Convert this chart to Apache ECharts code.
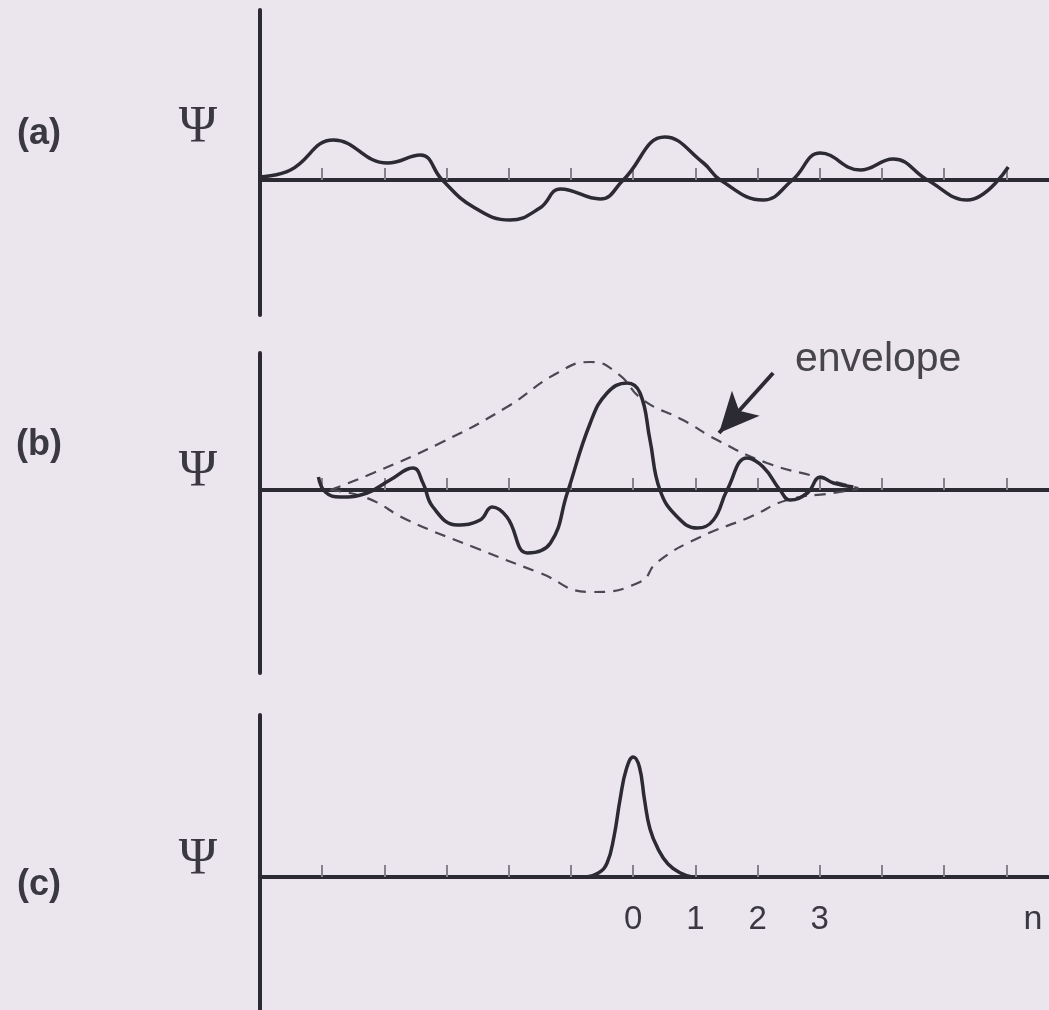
<!DOCTYPE html>
<html>
<head>
<meta charset="utf-8">
<script src="https://cdn.jsdelivr.net/npm/echarts@6/dist/echarts.min.js"></script>
<style>
html,body{margin:0;padding:0;background:#ebe6ee;}
#chart{width:1049px;height:1010px;}
</style>
</head>
<body>
<div id="chart"></div>
<script>
// x in units of n (tick spacing = 1), y in arbitrary units of psi
const tickValues = [-5, -4, -3, -2, -1, 0, 1, 2, 3, 4, 5, 6];
const tickLabels = ['0', '1', '2', '3'];
const panelLabels = ['(a)', '(b)', '(c)'];
const axisName = 'n';
const annotation = 'envelope';

const waveA_x = [-6.00,-5.51,-4.82,-3.95,-3.42,-3.07,-2.57,-1.98,-1.50,-1.17,-0.53,-0.16,0.51,1.13,1.40,2.09,2.56,3.01,3.65,4.18,4.73,5.37,6.03];
const waveA_y = [0.3,1.0,4.0,1.7,2.5,0.0,-2.7,-4.0,-2.8,-0.9,-1.9,0.0,4.3,1.7,0.0,-2.0,0.0,2.7,1.0,2.1,0.0,-2.0,1.3];

const waveB_x = [-5.06,-4.95,-4.71,-4.28,-3.91,-3.54,-3.38,-3.22,-2.83,-2.46,-2.27,-2.03,-1.70,-1.33,-1.06,-0.69,-0.42,-0.10,0.11,0.27,0.43,0.71,1.03,1.29,1.51,1.83,2.09,2.36,2.52,2.80,3.01,3.22,3.54];
const waveB_y = [1.3,-0.2,-0.7,-0.3,1.0,2.2,0.7,-1.7,-3.5,-3.0,-1.7,-2.7,-6.3,-5.3,-0.3,6.7,9.7,10.7,9.7,5.0,0.0,-2.7,-3.8,-3.0,0.0,3.2,2.3,0.0,-1.0,-0.3,1.3,0.7,0.3];

const envUpper_x = [-4.87,-4.18,-3.10,-2.03,-1.22,-0.69,-0.26,0.16,0.80,1.35,2.15,2.96,3.62];
const envUpper_y = [0.0,1.7,4.7,8.3,11.7,12.8,11.7,9.0,7.0,5.0,2.7,1.3,0.2];

const envLower_x = [-4.87,-4.28,-3.63,-2.57,-1.50,-0.69,0.11,0.39,1.08,1.88,2.48,3.22,3.62];
const envLower_y = [0.0,-0.8,-3.0,-5.7,-8.3,-10.2,-9.2,-7.2,-4.7,-2.7,-1.0,-0.3,0.1];

const waveC_x = [-0.77,-0.56,-0.42,-0.31,-0.21,-0.11,0.00,0.10,0.18,0.27,0.40,0.56,0.76,0.95];
const waveC_y = [0.0,0.4,1.4,4.0,7.8,10.8,12.0,11.0,7.8,4.8,2.8,1.3,0.4,0.0];

const arrowFrom = [2.25, 11.7];
const arrowTo = [1.38, 5.7];

function pairs(xs, ys){ return xs.map((x,i)=>[x, ys[i]]); }

const INK = '#2c2a32';
const X_MIN = -6, X_MAX = 6.685;
const grids = [
  {left:260, right:0, top:10, height:305},
  {left:260, right:0, top:353, height:320},
  {left:260, right:0, top:715, height:295}
];
const yRanges = [[-13.5,17],[-18.3,13.7],[-13.3,16.2]];

const xAxes = grids.map((g,i)=>({
  type:'value', gridIndex:i, min:X_MIN, max:X_MAX,
  axisLine:{show:true, onZero:true, lineStyle:{color:INK, width:4}},
  axisTick:{show:true, inside:true, length:12, customValues:tickValues, lineStyle:{color:'#85828c', width:2}},
  axisLabel:{show:false},
  splitLine:{show:false}
}));
// label-only axis for panel (c), lifted up to the zero line
xAxes.push({
  type:'value', gridIndex:2, min:X_MIN, max:X_MAX, position:'bottom', offset:-133,
  axisLine:{show:false, onZero:false}, axisTick:{show:false}, splitLine:{show:false},
  axisLabel:{show:true, margin:26, color:'#3a3840', fontSize:33, fontFamily:'Liberation Sans',
    customValues:[0, 1, 2, 3],
    formatter:(v)=> tickLabels[Math.round(v)] || ''}
});
const yAxes = grids.map((g,i)=>({
  type:'value', gridIndex:i, min:yRanges[i][0], max:yRanges[i][1],
  axisLine:{show:true, onZero:false, lineStyle:{color:INK, width:4}},
  axisTick:{show:false}, axisLabel:{show:false}, splitLine:{show:false}
}));

const solid = {color:INK, width:3.5};
const series = [
  {type:'line', xAxisIndex:0, yAxisIndex:0, data:pairs(waveA_x,waveA_y), smooth:0.45, showSymbol:false, lineStyle:solid, z:3},
  {type:'line', xAxisIndex:1, yAxisIndex:1, data:pairs(waveB_x,waveB_y), smooth:0.45, showSymbol:false, lineStyle:solid, z:3},
  {type:'line', xAxisIndex:1, yAxisIndex:1, data:pairs(envUpper_x,envUpper_y), smooth:0.5, showSymbol:false,
    lineStyle:{color:'#4a4850', width:2.2, type:[11,8]}, z:2,
    markLine:{silent:true, animation:false, symbol:['none','arrow'], symbolSize:[28,40],
      lineStyle:{type:'solid', width:4, color:INK}, label:{show:false},
      data:[[{coord:arrowFrom},{coord:arrowTo}]]}},
  {type:'line', xAxisIndex:1, yAxisIndex:1, data:pairs(envLower_x,envLower_y), smooth:0.5, showSymbol:false,
    lineStyle:{color:'#4a4850', width:2.2, type:[11,8]}, z:2},
  {type:'line', xAxisIndex:2, yAxisIndex:2, data:pairs(waveC_x,waveC_y), smooth:0.45, showSymbol:false, lineStyle:solid, z:3}
];

const labelFont = 'bold 36px "Liberation Sans"';
const psiFont = '52px "Liberation Serif"';
const txtColor = '#3a3840';
const graphic = [
  {type:'text', style:{text:panelLabels[0], x:39, y:134, font:labelFont, fill:txtColor, align:'center', verticalAlign:'middle'}},
  {type:'text', style:{text:panelLabels[1], x:39, y:445, font:labelFont, fill:txtColor, align:'center', verticalAlign:'middle'}},
  {type:'text', style:{text:panelLabels[2], x:39, y:885, font:labelFont, fill:txtColor, align:'center', verticalAlign:'middle'}},
  {type:'text', style:{text:'\u03A8', x:198, y:128, font:psiFont, fill:txtColor, align:'center', verticalAlign:'middle'}},
  {type:'text', style:{text:'\u03A8', x:198, y:472, font:psiFont, fill:txtColor, align:'center', verticalAlign:'middle'}},
  {type:'text', style:{text:'\u03A8', x:198, y:860, font:psiFont, fill:txtColor, align:'center', verticalAlign:'middle'}},
  {type:'text', style:{text:annotation, x:795, y:360, font:'41px "Liberation Sans"', fill:'#47454c', align:'left', verticalAlign:'middle'}},
  {type:'text', style:{text:axisName, x:1033, y:920, font:'34px "Liberation Sans"', fill:txtColor, align:'center', verticalAlign:'middle'}}
];

const chart = echarts.init(document.getElementById('chart'), null, {renderer:'canvas'});
chart.setOption({
  backgroundColor:'#ebe6ee',
  animation:false,
  grid:grids,
  xAxis:xAxes,
  yAxis:yAxes,
  series:series,
  graphic:graphic
});
</script>
</body>
</html>
